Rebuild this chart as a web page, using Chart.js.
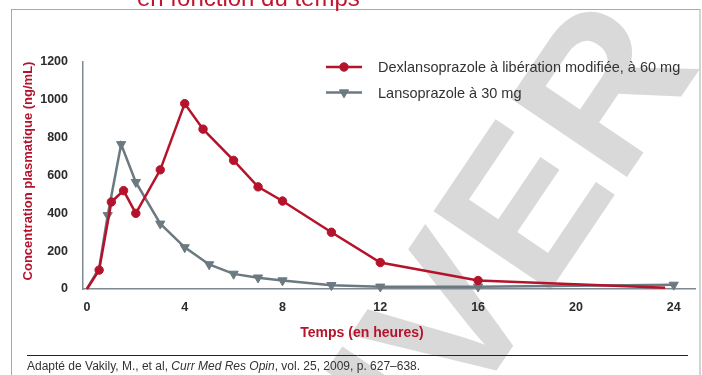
<!DOCTYPE html>
<html>
<head>
<meta charset="utf-8">
<style>
  html, body { margin: 0; padding: 0; background: #fff; }
  #wrap { width: 702px; height: 375px; }
</style>
</head>
<body>
<div id="wrap"><canvas id="pkChart" width="702" height="375"></canvas></div>
<script src="https://cdn.jsdelivr.net/npm/chart.js@4.4.0/dist/chart.umd.min.js"></script>
<script>
// valeurs (heures / ng/mL)
const dexHours = [0, 0.5, 1, 1.5, 2, 3, 4, 4.75, 6, 7, 8, 10, 12, 16, 23.65];
const dexValues = [0, 100, 460, 520, 400, 630, 980, 845, 680, 540, 465, 300, 140, 45, 7];
const lansoHours = [0, 0.5, 0.85, 1.4, 2, 3, 4, 5, 6, 7, 8, 10, 12, 16, 24];
const lansoValues = [0, 110, 390, 765, 565, 345, 220, 130, 80, 60, 45, 20, 12, 12, 22];
const xTicks = [0, 4, 8, 12, 16, 20, 24];
const yTicks = [0, 200, 400, 600, 800, 1000, 1200];
const seriesLabels = ['Dexlansoprazole à libération modifiée, à 60 mg', 'Lansoprazole à 30 mg'];

const RED = '#b5132b';
const GREY = '#6b7981';
const FONT = '"Liberation Sans", Arial, sans-serif';

Chart.defaults.font.family = FONT;

function toPoints(xs, ys) {
  return xs.map((x, i) => ({ x: x, y: ys[i] }));
}

// fond, filigrane, cadre, textes
const decorPlugin = {
  id: 'decor',
  beforeDraw(chart) {
    const ctx = chart.ctx;
    ctx.save();
    ctx.fillStyle = '#fff';
    ctx.fillRect(0, 0, chart.width, chart.height);
    ctx.translate(496, 270);
    ctx.rotate(-56 * Math.PI / 180);
    ctx.fillStyle = '#d9d9d9';
    ctx.font = 'bold 205px ' + FONT;
    ctx.textAlign = 'center';
    ctx.textBaseline = 'middle';
    ctx.fillText('UVER', 0, 0);
    ctx.restore();

    ctx.save();
    ctx.strokeStyle = '#a9a9a9';
    ctx.lineWidth = 1;
    ctx.strokeRect(11.5, 9.5, 688.5, 380);
    ctx.fillStyle = '#c0142f';
    ctx.font = '24px ' + FONT;
    ctx.textBaseline = 'alphabetic';
    ctx.fillText('en fonction du temps', 137, 6);
    ctx.restore();
  },
  afterDraw(chart) {
    const ctx = chart.ctx;
    const sets = chart.data.datasets;

    // titre axe Y
    ctx.save();
    ctx.fillStyle = RED;
    ctx.font = 'bold 13px ' + FONT;
    ctx.textAlign = 'center';
    ctx.textBaseline = 'middle';
    ctx.translate(28, 171);
    ctx.rotate(-Math.PI / 2);
    ctx.fillText('Concentration plasmatique (ng/mL)', 0, 0);
    ctx.restore();

    // titre axe X
    ctx.save();
    ctx.fillStyle = RED;
    ctx.font = 'bold 14px ' + FONT;
    ctx.textAlign = 'center';
    ctx.textBaseline = 'middle';
    ctx.fillText('Temps (en heures)', 362, 333);
    ctx.restore();

    // légende
    ctx.save();
    for (let i = 0; i < sets.length; i++) {
      const y = 67 + i * 25.5;
      const d = sets[i];
      ctx.strokeStyle = d.borderColor;
      ctx.lineWidth = d.borderWidth;
      ctx.beginPath();
      ctx.moveTo(326, y);
      ctx.lineTo(362, y);
      ctx.stroke();
      ctx.fillStyle = d.borderColor;
      ctx.strokeStyle = d.borderColor;
      ctx.lineWidth = 1;
      Chart.helpers.drawPoint(ctx, {
        pointStyle: d.pointStyle,
        rotation: d.rotation || 0,
        radius: d.legendRadius,
        borderWidth: 1
      }, 344, y);
      ctx.fillStyle = '#333';
      ctx.font = '14.5px ' + FONT;
      ctx.textBaseline = 'middle';
      ctx.fillText(seriesLabels[i], 378, y + 1);
    }
    ctx.restore();

    // source
    ctx.save();
    ctx.strokeStyle = '#222';
    ctx.lineWidth = 1;
    ctx.beginPath();
    ctx.moveTo(27, 355.5);
    ctx.lineTo(688, 355.5);
    ctx.stroke();
    ctx.fillStyle = '#333';
    ctx.textBaseline = 'middle';
    let x = 27;
    const parts = [
      ['Adapté de Vakily, M., et al, ', ''],
      ['Curr Med Res Opin', 'italic '],
      [', vol. 25, 2009, p. 627–638.', '']
    ];
    parts.forEach(p => {
      ctx.font = p[1] + '12px ' + FONT;
      ctx.fillText(p[0], x, 367);
      x += ctx.measureText(p[0]).width;
    });
    ctx.restore();
  }
};

const ctx = document.getElementById('pkChart');

new Chart(ctx, {
  type: 'line',
  data: {
    datasets: [
      {
        label: seriesLabels[0],
        data: toPoints(dexHours, dexValues),
        borderColor: RED,
        backgroundColor: RED,
        borderWidth: 2.5,
        pointStyle: 'circle',
        pointRadius: dexHours.map((h, i) => (i === 0 || i === dexHours.length - 1 ? 0 : 4.2)),
        pointBorderWidth: 1,
        pointBackgroundColor: RED,
        pointBorderColor: RED,
        legendRadius: 4.2,
        tension: 0,
        clip: false
      },
      {
        label: seriesLabels[1],
        data: toPoints(lansoHours, lansoValues),
        borderColor: GREY,
        backgroundColor: GREY,
        borderWidth: 2.5,
        pointStyle: 'triangle',
        rotation: 180,
        pointRotation: 180,
        pointRadius: lansoHours.map((h, i) => (i < 2 ? 0 : 5.3)),
        pointBorderWidth: 1,
        pointBackgroundColor: GREY,
        pointBorderColor: GREY,
        legendRadius: 5.3,
        tension: 0,
        clip: false
      }
    ]
  },
  options: {
    responsive: false,
    animation: false,
    devicePixelRatio: 1,
    layout: { padding: { top: 62, right: 4, left: 0, bottom: 0 } },
    plugins: {
      legend: { display: false },
      tooltip: { enabled: false }
    },
    scales: {
      x: {
        type: 'linear',
        min: -0.16,
        max: 24.9,
        afterBuildTicks: scale => {
          scale.ticks = xTicks.map(v => ({ value: v }));
        },
        afterFit: scale => {
          scale.height = 86;
        },
        grid: { display: false, drawTicks: false },
        border: { color: '#7d8a91', width: 1.5 },
        ticks: {
          color: '#2b2b2b',
          font: { size: 12.5, weight: 'bold' },
          padding: 11,
          maxRotation: 0,
          callback: v => String(v)
        }
      },
      y: {
        min: 0,
        max: 1200,
        afterBuildTicks: scale => {
          scale.ticks = yTicks.map(v => ({ value: v }));
        },
        afterFit: scale => {
          scale.width = 83;
        },
        grid: { display: false, drawTicks: false },
        border: { color: '#7d8a91', width: 1.5 },
        ticks: {
          color: '#2b2b2b',
          font: { size: 12.5, weight: 'bold' },
          padding: 15,
          callback: v => String(v)
        }
      }
    }
  },
  plugins: [decorPlugin]
});
</script>
</body>
</html>
